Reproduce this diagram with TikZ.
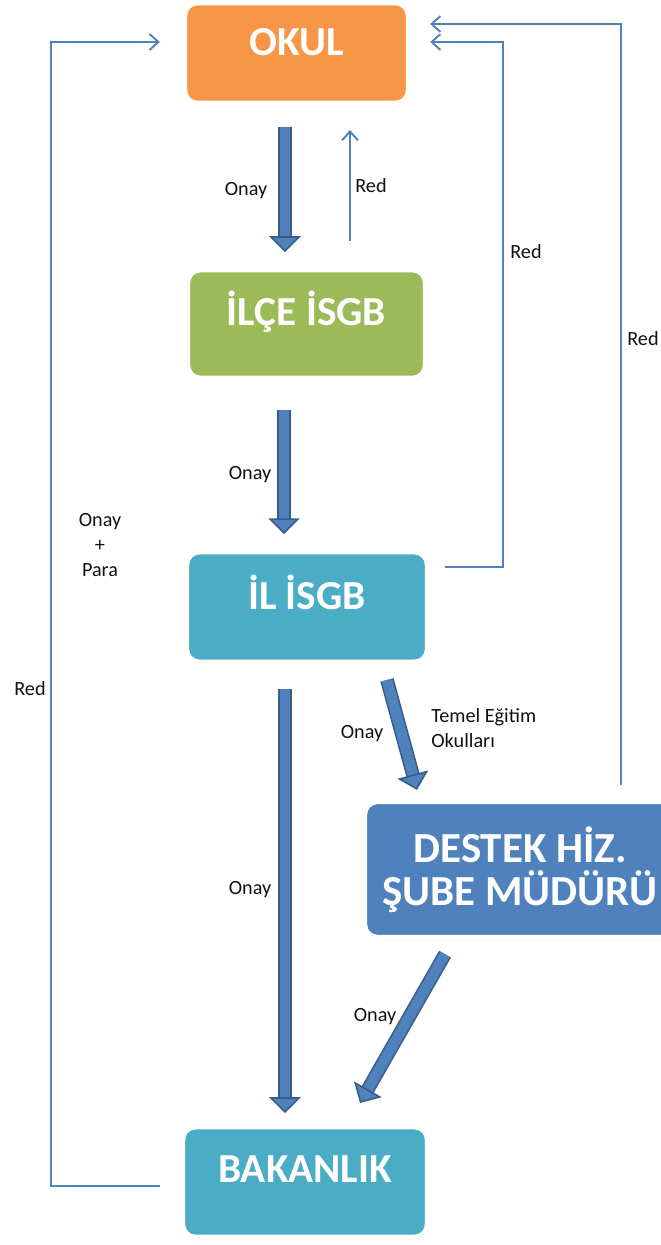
\documentclass[tikz,border=0pt]{standalone}
\usepackage{fontspec}
\setmainfont{Carlito}
\usetikzlibrary{arrows.meta,calc,shadows}
\definecolor{fcOrange}{HTML}{F79646}
\definecolor{fcGreen}{HTML}{9BBB59}
\definecolor{fcTeal}{HTML}{4BACC6}
\definecolor{fcBlue}{HTML}{4F81BD}
\definecolor{fcEdge}{HTML}{385D8A}
\definecolor{fcInk}{HTML}{111111}
\tikzset{
  box/.style={draw=white, line width=2.5pt, rounded corners=7pt, inner ysep=0pt, text=white, align=center,
    font=\fontsize{23.5}{24.5}\selectfont\bfseries,
    drop shadow={shadow xshift=0.6pt, shadow yshift=-1.2pt, opacity=0.3}},
  boxO/.style={box, fill=fcOrange},
  boxG/.style={box, fill=fcGreen},
  boxT/.style={box, fill=fcTeal},
  boxB/.style={box, fill=fcBlue},
  fat/.style={draw=fcEdge, line width=0.9pt, double=fcBlue, double distance=6pt,
    -{Triangle[width=18pt, length=9pt, fill=fcBlue, color=fcEdge, line width=0.9pt]}},
  thinarr/.style={draw=fcBlue, line width=1.1pt, -{Straight Barb[length=5pt, width=9pt]}},
  lbl/.style={font=\fontsize{11.5}{14}\selectfont, text=fcInk, inner sep=0pt},
}
\begin{document}
\begin{tikzpicture}[x=0.02cm, y=-0.02cm]
  \useasboundingbox (0,0) rectangle (661,1245);
  % boxes
  \node[boxO, minimum width=4.46cm, text height=29.5pt, text depth=27.2pt] (okul) at (296.5,53) {OKUL};
  \node[boxG, minimum width=4.74cm, text height=31.2pt, text depth=30pt] (ilce) at (306.5,324) {İLÇE İSGB};
  \node[boxT, minimum width=4.8cm, text height=32.3pt, text depth=30pt] (il) at (307,607) {İL İSGB};
  \node[boxB, minimum width=6.2cm, minimum height=2.7cm, font=\fontsize{24.4}{24.5}\selectfont\bfseries] (destek) at (520,869.5) {DESTEK HİZ.\\ŞUBE MÜDÜRÜ};
  \node[boxT, minimum width=4.88cm, text height=31.2pt, text depth=31.2pt] (bak) at (305,1182) {BAKANLIK};
  % labels
  \node[lbl] (onay1) at (246,191) {Onay};
  \node[lbl] (red1) at (371,186) {Red};
  \node[lbl] (red2) at (526,252) {Red};
  \node[lbl] (red3) at (643,339) {Red};
  \node[lbl] (onay2) at (250,475) {Onay};
  \node[lbl, align=center] (onay3) at (100,545) {Onay\\+\\Para};
  \node[lbl] (red4) at (30,689) {Red};
  \node[lbl] (onay4) at (362,734) {Onay};
  \node[lbl, align=left, anchor=west] (temel) at (431,728) {Temel Eğitim\\Okulları};
  \node[lbl] (onay5) at (250,890) {Onay};
  \node[lbl] (onay6) at (375,1017) {Onay};
  % onay arrows
  \draw[fat] ($(okul.south)+(-11.5,22)$) -- ($(ilce.north)+(-21.5,-16)$);
  \draw[fat] ($(ilce.south)+(-22.5,30)$) -- ($(il.north)+(-23,-16)$);
  \draw[fat] ($(il.south)+(-22,25)$) -- ($(bak.north)+(-20,-12)$);
  \draw[fat] ($(il.south)+(80,16)$) -- ($(destek.north)+(-103,-10)$);
  \draw[fat] ($(destek.south)+(-75,15)$) -- ($(bak.north)+(55,-22)$);
  % red lines
  \draw[thinarr] ($(ilce.north)+(43.5,-27)$) -- ($(okul.south)+(53.5,25)$);
  \draw[thinarr] ($(il.east)+(16,-40)$) -| (503,42) -- ($(okul.east)+(20,-11)$);
  \draw[thinarr] ($(destek.north)+(101,-15)$) |- ($(okul.east)+(20,-29)$);
  \draw[thinarr] ($(bak.west)+(-21,4)$) -- ++(-109,0) |- ($(okul.west)+(-23,-11)$);
\end{tikzpicture}
\end{document}
